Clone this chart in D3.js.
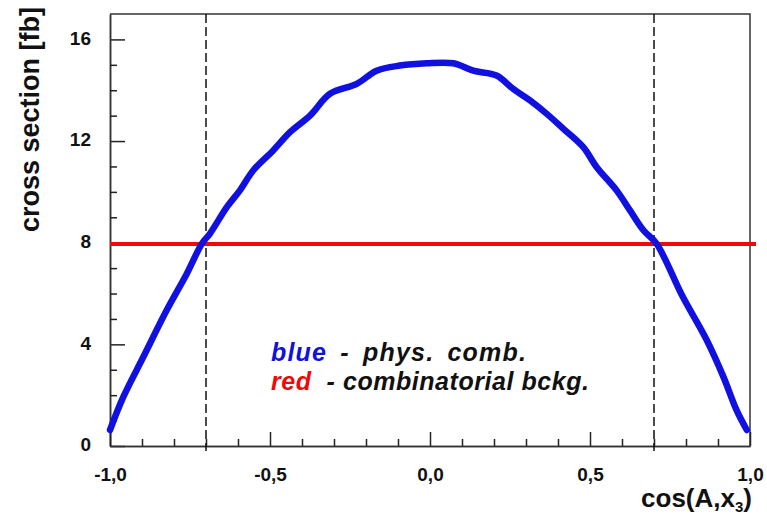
<!DOCTYPE html>
<html>
<head>
<meta charset="utf-8">
<script src="https://cdn.jsdelivr.net/npm/d3@7"></script>
<style>
  html, body { margin: 0; padding: 0; background: #fff; }
  svg { display: block; }
  text { font-family: "Liberation Sans", Arial, sans-serif; font-weight: bold; }
</style>
</head>
<body>
<svg id="chart" width="767" height="520"></svg>
<script>
// Signal cross section versus cos(A, x3)
const cosValues = [-1.0, -0.958, -0.896, -0.823, -0.76, -0.713, -0.6875, -0.635, -0.594, -0.552,
  -0.49, -0.4375, -0.375, -0.3125, -0.229, -0.167, -0.094, -0.01, 0.073, 0.135, 0.208, 0.26,
  0.3125, 0.365, 0.417, 0.479, 0.521, 0.583, 0.625, 0.667, 0.708, 0.79, 0.865, 0.917, 0.958, 0.99];
const physComb = [0.63, 1.94, 3.5, 5.34, 6.78, 7.96, 8.36, 9.4, 10.06, 10.85,
  11.63, 12.35, 13.0, 13.86, 14.25, 14.77, 14.97, 15.06, 15.06, 14.77, 14.58, 14.05,
  13.6, 13.07, 12.48, 11.76, 10.97, 10.06, 9.27, 8.49, 7.96, 5.87, 4.16, 2.72, 1.41, 0.63];

// Flat combinatorial background level
const combBackground = 7.95;

// Cut positions
const cutPositions = [-0.7, 0.7];

// Axis ticks
const xMajorTicks = [-1.0, -0.5, 0.0, 0.5, 1.0];
const xMinorTicks = [-0.9, -0.8, -0.7, -0.6, -0.4, -0.3, -0.2, -0.1, 0.1, 0.2, 0.3, 0.4, 0.6, 0.7, 0.8, 0.9];
const yMajorTicks = [0, 4, 8, 12, 16];
const yMinorTicks = [1, 2, 3, 5, 6, 7, 9, 10, 11, 13, 14, 15];

const svg = d3.select("#chart");
const plotLeft = 110, plotRight = 750, plotTop = 14, plotBottom = 446;

const x = d3.scaleLinear().domain([-1, 1]).range([plotLeft, plotRight]);
const y = d3.scaleLinear().domain([0, 17]).range([plotBottom, plotTop]);

const fmtX = d => d.toFixed(1).replace(".", ",");

// Frame (top and right)
svg.append("path")
  .attr("d", `M${plotLeft},${plotTop}H${plotRight}V${plotBottom}`)
  .attr("fill", "none").attr("stroke", "#333").attr("stroke-width", 1.5);

// Y axis: major ticks with labels, minor ticks without
const yMajor = svg.append("g").attr("transform", `translate(${plotLeft},0)`)
  .call(d3.axisLeft(y).tickValues(yMajorTicks).tickSizeInner(-15).tickSizeOuter(0).tickPadding(19).tickFormat(d3.format("d")));
const yMinor = svg.append("g").attr("transform", `translate(${plotLeft},0)`)
  .call(d3.axisLeft(y).tickValues(yMinorTicks).tickSizeInner(-7).tickSizeOuter(0).tickFormat(""));
[yMajor, yMinor].forEach(g => {
  g.select(".domain").attr("stroke", "#333").attr("stroke-width", 1.5);
  g.selectAll(".tick line").attr("stroke", "#222").attr("stroke-width", 1.5);
});
yMajor.selectAll(".tick text")
  .attr("font-size", 19).attr("fill", "#111")
  .attr("dy", "0.25em");

// X axis
const xMajor = svg.append("g").attr("transform", `translate(0,${plotBottom})`)
  .call(d3.axisBottom(x).tickValues(xMajorTicks).tickSizeInner(-14).tickSizeOuter(0).tickPadding(22).tickFormat(fmtX));
const xMinor = svg.append("g").attr("transform", `translate(0,${plotBottom})`)
  .call(d3.axisBottom(x).tickValues(xMinorTicks).tickSizeInner(-7).tickSizeOuter(0).tickFormat(""));
[xMajor, xMinor].forEach(g => {
  g.select(".domain").attr("stroke", "#333").attr("stroke-width", 1.5);
  g.selectAll(".tick line").attr("stroke", "#222").attr("stroke-width", 1.5);
});
xMajor.selectAll(".tick text")
  .attr("font-size", 19).attr("fill", "#111")
  .attr("dy", "0.71em");

// Dashed cut lines
svg.append("g").selectAll("line").data(cutPositions).join("line")
  .attr("x1", d => x(d)).attr("x2", d => x(d))
  .attr("y1", plotTop).attr("y2", plotBottom + 5)
  .attr("stroke", "#111").attr("stroke-width", 1.5)
  .attr("stroke-dasharray", "9,4");

// Background level
svg.append("line")
  .attr("x1", x(-1)).attr("x2", x(1) + 6)
  .attr("y1", y(combBackground)).attr("y2", y(combBackground))
  .attr("stroke", "#ee0a0a").attr("stroke-width", 4);

// Physical combination curve
const line = d3.line()
  .x((d, i) => x(cosValues[i]))
  .y(d => y(d))
  .curve(d3.curveCatmullRom.alpha(0.5));
svg.append("path")
  .datum(physComb)
  .attr("d", line)
  .attr("fill", "none")
  .attr("stroke", "#1010e0")
  .attr("stroke-width", 6.5)
  .attr("stroke-linejoin", "round")
  .attr("stroke-linecap", "round");

// Axis titles
svg.append("text")
  .attr("transform", "translate(38.5,119.5) rotate(-90)")
  .attr("text-anchor", "middle")
  .attr("font-size", 27).attr("fill", "#111")
  .text("cross section [fb]");

const xt = svg.append("text")
  .attr("x", 752).attr("y", 507)
  .attr("text-anchor", "end")
  .attr("font-size", 26).attr("fill", "#111");
xt.append("tspan").text("cos(A,x");
xt.append("tspan").attr("font-size", 15).attr("dy", 5).text("3");
xt.append("tspan").attr("dy", -5).text(")");

// Legend
const legend = [
  { key: "blue", color: "#1010e0", rest: " - phys. comb.", letterSpacing: 1.2, wordSpacing: 5 },
  { key: "red", color: "#ee0a0a", rest: "  - combinatorial bckg.", letterSpacing: 0.55, wordSpacing: 0 }
];
legend.forEach((l, i) => {
  const t = svg.append("text")
    .attr("x", 271).attr("y", 361 + i * 29)
    .attr("font-size", 25).attr("font-style", "italic")
    .attr("xml:space", "preserve")
    .style("letter-spacing", l.letterSpacing + "px")
    .style("word-spacing", l.wordSpacing + "px");
  t.append("tspan").attr("fill", l.color).text(l.key);
  t.append("tspan").attr("fill", "#111").text(l.rest);
});
</script>
</body>
</html>
